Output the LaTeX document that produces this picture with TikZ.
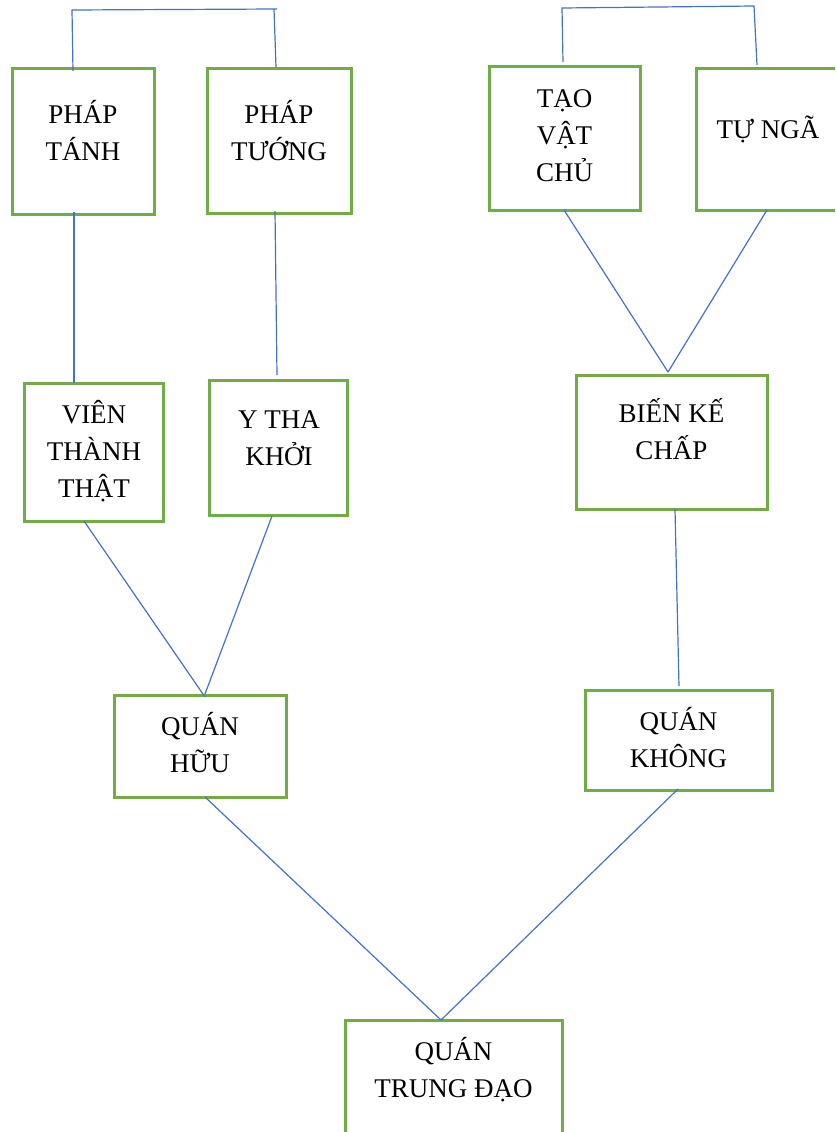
\documentclass[tikz,border=0pt]{standalone}
\usepackage{fontspec}
\setmainfont{Liberation Serif}
\usetikzlibrary{calc}
\definecolor{boxgreen}{HTML}{70AD47}
\definecolor{lineblue}{HTML}{4472C4}
\begin{document}
\begin{tikzpicture}[x=1pt,y=-1pt,
  box/.style={draw=boxgreen,line width=3pt,rectangle,inner sep=0pt,outer sep=0pt,anchor=north west},
  conn/.style={draw=lineblue,line width=1.2pt},
  lbl/.style={anchor=base,inner sep=0pt,font=\fontsize{27}{37}\selectfont}]
\useasboundingbox (0,0) rectangle (835,1132);
\clip (0,0) rectangle (835,1132);
\newcommand{\lines}[1]{\parbox[t]{200pt}{\centering #1}}
% boxes
\node[box,minimum width=142pt,minimum height=145pt] (bPT) at (12,69) {};
\node[box,minimum width=144pt,minimum height=144pt] (bPTg) at (207,69) {};
\node[box,minimum width=151pt,minimum height=143pt] (bTVC) at (489,67) {};
\node[box,minimum width=144pt,minimum height=141pt] (bTN) at (696,69) {};
\node[box,minimum width=139pt,minimum height=138pt] (bVien) at (24,383) {};
\node[box,minimum width=138pt,minimum height=135pt] (bYtha) at (209,380) {};
\node[box,minimum width=191pt,minimum height=134pt] (bBien) at (576,375) {};
\node[box,minimum width=172pt,minimum height=102pt] (bHuu) at (114,695) {};
\node[box,minimum width=187pt,minimum height=100pt] (bKhong) at (585,690) {};
\node[box,minimum width=217pt,minimum height=120pt] (bTrung) at (345,1020) {};
% labels
\node[lbl] (phaptanh) at (83,123) {\lines{PHÁP\\TÁNH}};
\node[lbl] (phaptuong) at (279,123) {\lines{PHÁP\\TƯỚNG}};
\node[lbl] (taovatchu) at (564.5,107) {\lines{TẠO\\VẬT\\CHỦ}};
\node[lbl] (tunga) at (768,138) {\lines{TỰ NGÃ}};
\node[lbl] (vien) at (94,423) {\lines{VIÊN\\THÀNH\\THẬT}};
\node[lbl] (ytha) at (279,428) {\lines{Y THA\\KHỞI}};
\node[lbl] (bien) at (671.5,422) {\lines{BIẾN KẾ\\CHẤP}};
\node[lbl] (huu) at (200,735) {\lines{QUÁN\\HỮU}};
\node[lbl] (khong) at (678.5,730) {\lines{QUÁN\\KHÔNG}};
\node[lbl] (trung) at (453.5,1060) {\lines{QUÁN\\TRUNG ĐẠO}};
% bracket corners (free ends)
\coordinate (t1a) at (72,10); \coordinate (t1b) at (277,9); \coordinate (t1c) at (274,9);
\coordinate (t2a) at (562,8); \coordinate (t2b) at (754,6);
% connector end points on box edges
\coordinate (t1l) at ($(bPT.north west)+(61,2)$);
\coordinate (t1r) at ($(bPTg.north west)+(69,-2)$);
\coordinate (t2l) at ($(bTVC.north west)+(74,-5)$);
\coordinate (t2r) at ($(bTN.north west)+(61,-4)$);
\coordinate (ptB) at ($(bPT.south west)+(62,-2)$);
\coordinate (vienT) at ($(bVien.north west)+(50,0)$);
\coordinate (ptgB) at ($(bPTg.south west)+(68,-2)$);
\coordinate (ythaT) at ($(bYtha.north west)+(68,-5)$);
\coordinate (vienB) at ($(bVien.south west)+(60,0)$);
\coordinate (ythaB) at ($(bYtha.south west)+(63,1)$);
\coordinate (huuT) at ($(bHuu.north west)+(91,2)$);
\coordinate (huuT2) at ($(bHuu.north west)+(91,-1)$);
\coordinate (tvcB) at ($(bTVC.south west)+(75,0)$);
\coordinate (tnB) at ($(bTN.south west)+(71,0)$);
\coordinate (bienT) at ($(bBien.north west)+(92,-3)$);
\coordinate (bienB) at ($(bBien.south west)+(99,0)$);
\coordinate (khongT) at ($(bKhong.north west)+(94,-4)$);
\coordinate (huuB) at ($(bHuu.south west)+(91,0)$);
\coordinate (khongB) at ($(bKhong.south west)+(93,-1)$);
\coordinate (trungT) at ($(bTrung.north west)+(96,0)$);
% connectors
\draw[conn] (t1l) -- (t1a) -- (t1b);
\draw[conn] (t1c) -- (t1r);
\draw[conn] (t2l) -- (t2a) -- (t2b) -- (t2r);
\draw[conn] (ptB) -- (vienT);
\draw[conn] (ptgB) -- (ythaT);
\draw[conn] (vienB) -- (huuT);
\draw[conn] (ythaB) -- (huuT2);
\draw[conn] (tvcB) -- (bienT);
\draw[conn] (tnB) -- (bienT);
\draw[conn] (bienB) -- (khongT);
\draw[conn] (huuB) -- (trungT);
\draw[conn] (khongB) -- (trungT);
\end{tikzpicture}
\end{document}
